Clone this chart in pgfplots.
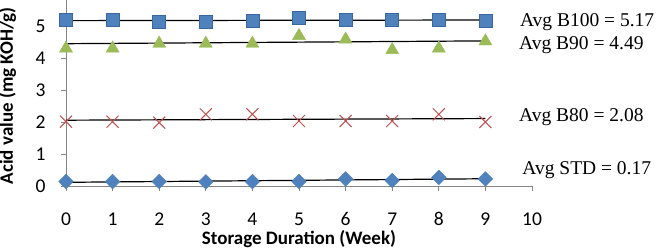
\documentclass[border=0pt]{standalone}
\usepackage{pgfplots}
\usepackage{pgfplotstable}
\pgfplotsset{compat=1.18}
\usepackage{fontspec}
\setmainfont{Carlito}
\newfontfamily\avgfont{Liberation Serif}

\definecolor{stdblue}{HTML}{4F81BD}
\definecolor{sqedge}{HTML}{3A66A0}
\definecolor{bred}{HTML}{C0504D}
\definecolor{bgreen}{HTML}{9BBB59}
\definecolor{axgray}{HTML}{868686}

% Acid value (mg KOH/g) per storage week
\pgfplotstableread{
week std b80 b90 b100
0 0.14 2.01 4.36 5.18
1 0.14 2.01 4.36 5.18
2 0.14 1.98 4.51 5.13
3 0.13 2.24 4.51 5.13
4 0.14 2.24 4.51 5.17
5 0.14 2.03 4.75 5.25
6 0.22 2.03 4.64 5.18
7 0.17 2.03 4.31 5.18
8 0.27 2.24 4.36 5.19
9 0.22 2.00 4.58 5.16
}\acidtable

\begin{document}
\begin{tikzpicture}
\begin{axis}[
  scale only axis,
  width=466bp, height=186bp,
  xmin=0, xmax=10, ymin=0, ymax=5.81,
  axis lines*=left,
  axis line style={draw=axgray, line width=0.8bp},
  xtick={0,1,...,10}, ytick={0,1,...,5},
  tick align=outside,
  major tick length=5bp,
  tick style={draw=axgray, line width=0.8bp},
  /pgf/number format/assume math mode=true,
  ticklabel style={font=\fontsize{19.5bp}{21bp}\selectfont},
  xticklabel style={anchor=center, yshift=-28bp},
  yticklabel style={anchor=east, xshift=-12bp},
  xlabel={Storage Duration (Week)},
  ylabel={Acid value (mg KOH/g)},
  label style={font=\bfseries\fontsize{19bp}{21bp}\selectfont},
  xlabel style={at={(axis description cs:0.5,0)}, anchor=base, yshift=-58bp},
  ylabel style={at={(axis description cs:-0.114,-0.01)}, anchor=base west},
  clip=false,
]
% trend lines (least squares fit of each series)
\addplot[black, line width=1.2bp, no marks] table[x=week, y={create col/linear regression={y=b100}}] {\acidtable};
\addplot[black, line width=1.2bp, no marks] table[x=week, y={create col/linear regression={y=b90}}] {\acidtable};
\addplot[black, line width=1.2bp, no marks] table[x=week, y={create col/linear regression={y=b80}}] {\acidtable};
\addplot[black, line width=1.2bp, no marks] table[x=week, y={create col/linear regression={y=std}}] {\acidtable};

% measured values
\addplot[only marks, mark=square*, mark size=6.5bp,
  mark options={fill=stdblue, draw=sqedge, line width=0.8bp}] table[x=week, y=b100] {\acidtable};
\addplot[only marks, mark=triangle*, mark size=7.5bp,
  mark options={fill=bgreen, draw=bgreen, yshift=-1.9bp}] table[x=week, y=b90] {\acidtable};
\addplot[only marks, mark=x, mark size=8.5bp,
  mark options={draw=bred, line width=1bp}] table[x=week, y=b80] {\acidtable};
\addplot[only marks, mark=square*, mark size=5.2bp,
  mark options={fill=stdblue, draw=stdblue, rotate=45}] table[x=week, y=std] {\acidtable};

% averages
\node[anchor=base west, inner sep=0pt, font=\avgfont\fontsize{19.5bp}{21bp}\selectfont] at (axis cs:9.74,4.99) {Avg B100 = 5.17};
\node[anchor=base west, inner sep=0pt, font=\avgfont\fontsize{19.5bp}{21bp}\selectfont] at (axis cs:9.72,4.25) {Avg B90 = 4.49};
\node[anchor=base west, inner sep=0pt, font=\avgfont\fontsize{19.5bp}{21bp}\selectfont] at (axis cs:9.72,2.01) {Avg B80 = 2.08};
\node[anchor=base west, inner sep=0pt, font=\avgfont\fontsize{19.5bp}{21bp}\selectfont] at (axis cs:9.79,0.35) {Avg STD = 0.17};
\end{axis}
\pgfresetboundingbox
\path[use as bounding box] (-66bp,-64bp) rectangle (598bp,186bp);
\end{tikzpicture}
\end{document}
